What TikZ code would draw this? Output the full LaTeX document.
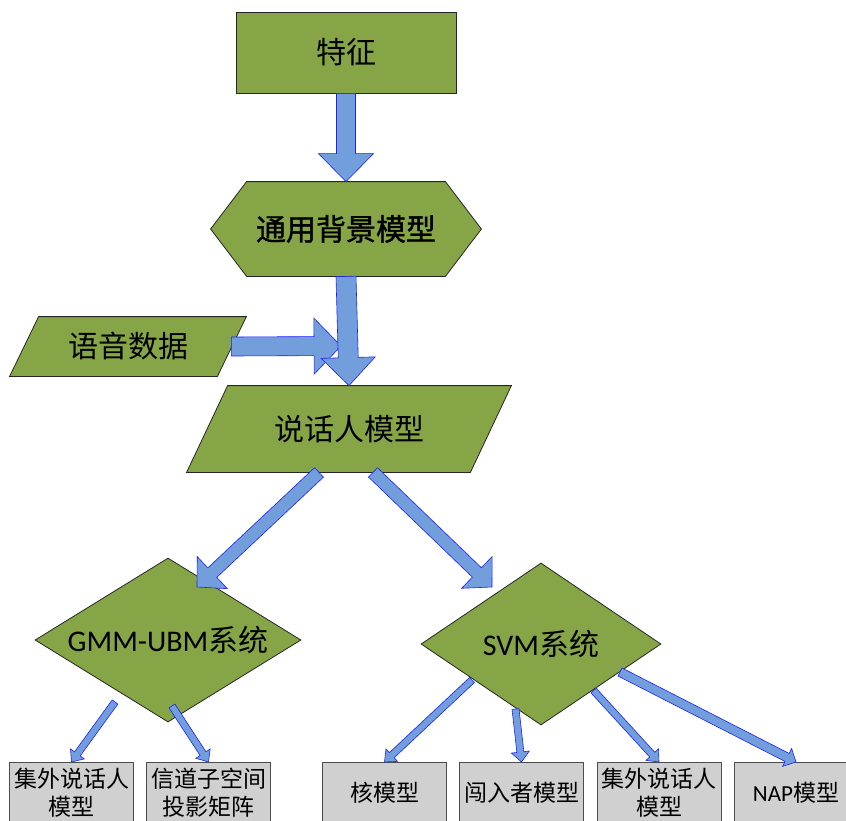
\documentclass[tikz,border=0pt]{standalone}
\usepackage{fontspec}
\setmainfont{Carlito}
\newfontfamily\cjk{Noto Sans CJK SC}
\newfontfamily\cjkheavy{Noto Sans CJK SC}[FakeBold=1.2]
\usepackage{tikz}
\usetikzlibrary{calc, positioning, shapes.geometric, backgrounds}

\definecolor{boxgreen}{RGB}{134,165,70}
\definecolor{boxgrey}{RGB}{208,208,208}
\definecolor{arrowfill}{RGB}{114,159,220}
\definecolor{arrowline}{RGB}{30,30,255}

% block arrow: from, to, shaft half width, head half width, head length
\newcommand\blockarrow[5]{%
  \coordinate (h) at ($(#2)!#5!(#1)$);
  \draw[bigarrow] ($(#1)!#3!90:(#2)$) -- ($(h)!#3!90:(#2)$) -- ($(h)!#4!90:(#2)$) -- (#2)
    -- ($(h)!#4!-90:(#2)$) -- ($(h)!#3!-90:(#2)$) -- ($(#1)!#3!-90:(#2)$) -- cycle;
}

\begin{document}
\begin{tikzpicture}[x=1pt, y=-1pt,
    greenshape/.style={draw=black!85, fill=boxgreen, line width=0.8pt},
    greenbox/.style={greenshape, inner sep=0pt, font=\fontsize{30}{36}\selectfont\cjk},
    greenlabel/.style={greenbox, draw=none, fill=none},
    greybox/.style={draw=black!70, fill=boxgrey, line width=0.8pt, minimum width=124pt, minimum height=60pt,
        inner sep=0pt, align=center, anchor=north, font=\fontsize{23}{28}\selectfont\cjk},
    bigarrow/.style={draw=arrowline, fill=arrowfill, line width=0.6pt}]
    \useasboundingbox (0,0) rectangle (846,820);
    \clip (0,0) rectangle (846,820);

    \node[greenbox, minimum width=220pt, minimum height=81pt] (feat) at (346,52.5) {特征};
    \node[greenlabel, font=\fontsize{30}{36}\selectfont\cjkheavy,
        minimum width=270pt, minimum height=94pt] (ubm) at (346,229) {通用背景模型};
    \node[greenlabel, minimum width=236pt, minimum height=59pt] (data) at (128,346.5) {语音数据};
    \node[greenlabel, minimum width=324pt, minimum height=86pt] (spk) at (349,429) {说话人模型};
    \begin{scope}[on background layer]
        \draw[greenshape] (ubm.west) -- ([xshift=36pt]ubm.north west) -- ([xshift=-36pt]ubm.north east)
            -- (ubm.east) -- ([xshift=-36pt]ubm.south east) -- ([xshift=36pt]ubm.south west) -- cycle;
        \draw[greenshape] (data.south west) -- ([xshift=29pt]data.north west) -- (data.north east)
            -- ([xshift=-29pt]data.south east) -- cycle;
        \draw[greenshape] (spk.south west) -- ([xshift=41pt]spk.north west) -- (spk.north east)
            -- ([xshift=-41pt]spk.south east) -- cycle;
    \end{scope}
    \node[greenbox, diamond, aspect=1.6, minimum width=266pt, minimum height=164pt] (gmm) at (168,640) {{\rmfamily GMM-UBM}系统};
    \node[greenbox, diamond, aspect=1.6, minimum width=240pt, minimum height=162pt] (svm) at (541,644) {{\rmfamily SVM}系统};

    \node[greybox] (oov1) at (71.5,762) {集外说话人\\模型};
    \node[greybox] (proj) at (208.5,762) {信道子空间\\投影矩阵};
    \node[greybox] (kern) at (384.5,762) {核模型};
    \node[greybox] (imp) at (521.5,762) {闯入者模型};
    \node[greybox] (oov2) at (659,762) {集外说话人\\模型};
    \node[greybox] (nap) at (796,762) {{\rmfamily NAP}模型};

    \coordinate (datafoot) at ([xshift=-15pt]data.east);
    \coordinate (datatip) at (341,346);
    \coordinate (spkl) at ([xshift=-30pt]spk.south);
    \coordinate (spkr) at ([xshift=24pt]spk.south);
    \coordinate (gmmtip) at (197,587);
    \coordinate (svmtip) at (492,587);
    \coordinate (gmml) at (115,702);
    \coordinate (gmmr) at (172,706);
    \coordinate (svm1) at (472,680);
    \coordinate (svm2) at (515.5,709);
    \coordinate (svm3) at (593.5,690.5);
    \coordinate (svm4) at (620,672);

    \blockarrow{feat.south}{ubm.north}{9.5pt}{27.5pt}{28pt}
    \blockarrow{datafoot}{datatip}{9.5pt}{28pt}{27pt}
    \blockarrow{ubm.south}{spk.north}{10pt}{27pt}{28pt}
    \blockarrow{spkl}{gmmtip}{6.5pt}{22pt}{21pt}
    \blockarrow{spkr}{svmtip}{6.5pt}{22pt}{21pt}
    \blockarrow{gmml}{oov1.north}{3.5pt}{8.5pt}{10pt}
    \blockarrow{gmmr}{proj.north}{3.5pt}{8.5pt}{10pt}
    \blockarrow{svm1}{kern.north}{3.5pt}{8.5pt}{10pt}
    \blockarrow{svm2}{imp.north}{3.5pt}{9pt}{10pt}
    \blockarrow{svm3}{oov2.north}{3.5pt}{8.5pt}{10pt}
    \blockarrow{svm4}{nap.north}{4.5pt}{10pt}{10pt}
\end{tikzpicture}
\end{document}
